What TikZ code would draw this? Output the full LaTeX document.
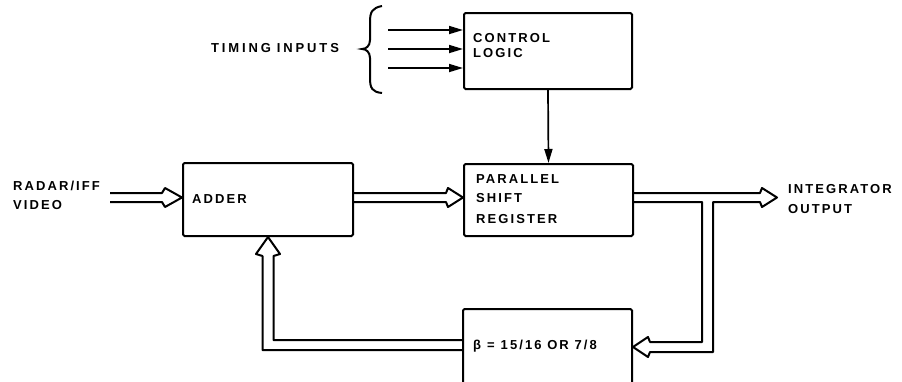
\documentclass[tikz,border=0pt]{standalone}
\usepackage{fontspec}
\setmainfont{Liberation Sans}[BoldFont={Liberation Sans Bold}]
\newfontfamily\lblfont{Liberation Sans Bold}[LetterSpace=16]
\newfontfamily\widefont{Liberation Sans Bold}[LetterSpace=22]
\usetikzlibrary{calc,arrows.meta}
\begin{document}
\begin{tikzpicture}[x=1pt,y=-1pt,
  box/.style={draw, line width=2pt, rounded corners=1.5pt, inner sep=0pt},
  lbl/.style={anchor=base west, inner sep=0pt, font=\lblfont\fontsize{13}{15}\selectfont},
  bus/.style={line width=2pt, line join=round},
  sig/.style={line width=1.7pt, -{Triangle[length=14pt,width=8pt]}}]
\clip (0,0) rectangle (902,381);
% boxes
\node[box, minimum width=168pt, minimum height=76pt, anchor=north west] (ctrl) at (463,12) {};
\node[box, minimum width=170pt, minimum height=73pt, anchor=north west] (adder) at (182,162) {};
\node[box, minimum width=169pt, minimum height=72pt, anchor=north west] (psr) at (463,163) {};
\node[box, minimum width=169pt, minimum height=105pt, anchor=north west] (fb) at (462,308) {};
% texts
\node[lbl] (tctrl1) at (473,42) {CONTROL};
\node[lbl] (tctrl2) at (473,57) {LOGIC};
\node[lbl] (tadd) at (192,203) {ADDER};
\node[lbl] (tpsr1) at (476,183) {PARALLEL};
\node[lbl] (tpsr2) at (476,202) {SHIFT};
\node[lbl] (tpsr3) at (476,223) {REGISTER};
\node[lbl] (tfb) at (473,349) {β\hspace{6pt}=\hspace{6pt}15/16 OR 7/8};
\node[lbl, font=\widefont\fontsize{13}{15}\selectfont] (ttim) at (211,52) {TIMING\hspace{6pt}INPUTS};
\node[lbl] (tin1) at (13,190) {RADAR/IFF};
\node[lbl] (tin2) at (13,209) {VIDEO};
\node[lbl] (tout1) at (788,193) {INTEGRATOR};
\node[lbl] (tout2) at (788,213) {OUTPUT};
% brace
\draw[line width=2pt] (382,6) .. controls (372,8) and (370,12) .. (370,22) -- (370,40)
  .. controls (370,46) and (366,49) .. (362,49) .. controls (366,49) and (370,52) .. (370,58)
  -- (370,78) .. controls (370,88) and (372,92) .. (382,93);
% timing arrows
\coordinate (t1) at (388,30);
\coordinate (t2) at (388,49);
\coordinate (t3) at (388,68);
\draw[sig] (t1) -- (t1 -| ctrl.west);
\draw[sig] (t2) -- (t2 -| ctrl.west);
\draw[sig] (t3) -- (t3 -| ctrl.west);
% control -> register
\draw[sig] (ctrl.south) -- (psr.north);
% input bus
\coordinate (oT) at (777,197.5);
\coordinate (vin) at (110,197.5);
\coordinate (vT) at (adder.west |- oT);
\draw[bus] ($(vin)+(0,-4.5)$) -- ($(vT)+(-20,-4.5)$) -- ($(vT)+(-17,-9.5)$) -- (vT)
  -- ($(vT)+(-17,9.5)$) -- ($(vT)+(-20,4.5)$) -- ($(vin)+(0,4.5)$);
% adder -> register
\coordinate (aS) at (adder.east |- oT);
\coordinate (aT) at (psr.west |- oT);
\draw[bus] ($(aS)+(0,-4.5)$) -- ($(aT)+(-17,-4.5)$) -- ($(aT)+(-15,-9.5)$) -- (aT)
  -- ($(aT)+(-15,9.5)$) -- ($(aT)+(-17,4.5)$) -- ($(aS)+(0,4.5)$);
% output and branch
\coordinate (pe) at (psr.east |- oT);
\coordinate (bx) at (707.5,0);
\coordinate (by) at (0,347);
\coordinate (bT) at (fb.east |- by);
\draw[bus] ($(pe)+(0,-4.5)$) -- ($(oT)+(-17,-4.5)$) -- ($(oT)+(-15,-9.5)$) -- (oT)
  -- ($(oT)+(-15,9.5)$) -- ($(oT)+(-17,4.5)$) -- ($(bx |- oT)+(5.5,4.5)$)
  -- ($(bx |- bT)+(5.5,5)$) -- ($(bT)+(17,5)$) -- ($(bT)+(15,10)$) -- (bT)
  -- ($(bT)+(15,-10)$) -- ($(bT)+(17,-5)$) -- ($(bx |- bT)+(-5.5,-5)$)
  -- ($(bx |- oT)+(-5.5,4.5)$) -- ($(pe)+(0,4.5)$);
% feedback
\coordinate (fy) at (0,345);
\coordinate (fl) at (fb.west |- fy);
\draw[bus] ($(fl)+(0,-5)$) -- ($(adder.south |- fl)+(5.5,-5)$) -- ($(adder.south)+(5.5,19)$)
  -- ($(adder.south)+(12,17)$) -- (adder.south) -- ($(adder.south)+(-12,17)$)
  -- ($(adder.south)+(-5.5,19)$) -- ($(adder.south |- fl)+(-5.5,5)$) -- ($(fl)+(0,5)$);
\end{tikzpicture}
\end{document}
